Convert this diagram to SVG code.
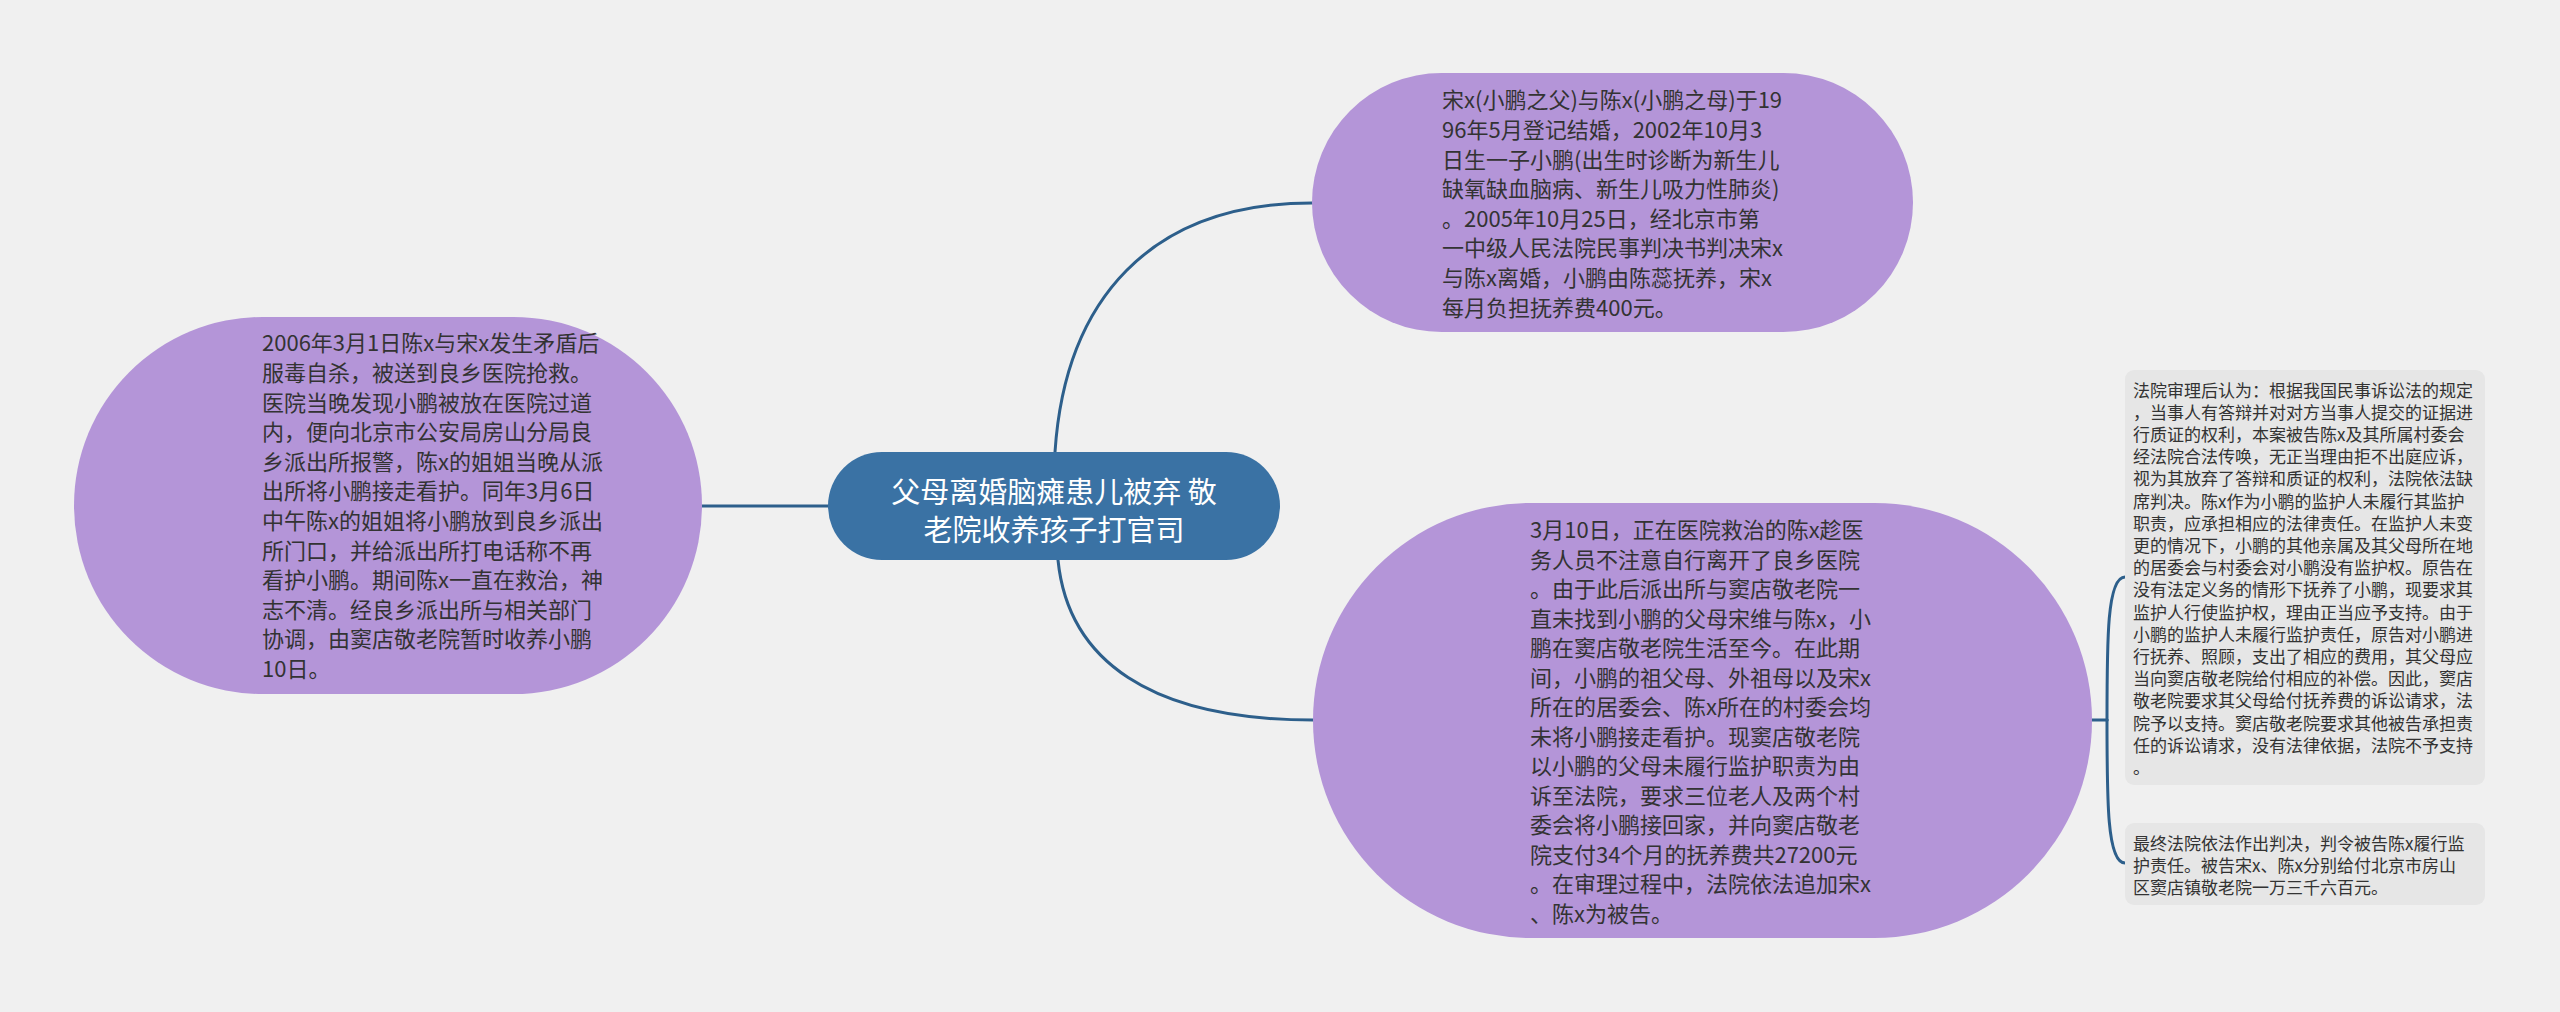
<svg xmlns="http://www.w3.org/2000/svg" width="2560" height="1012" viewBox="0 0 2560 1012">
<style>
.bg{fill:#f0f0f0}
.purple{fill:#b495d8}
.root{fill:#3a72a4}
.box{fill:#e6e6e6}
.conn{fill:none;stroke:#2d5f8b;stroke-width:3;stroke-linecap:round}
.t{font-family:"Microsoft YaHei","Noto Sans CJK SC","Noto Sans",sans-serif;fill:#333333}
.tp{font-size:22px}
.ts{font-size:17px}
.tr{font-size:29px;fill:#ffffff;text-anchor:middle}
</style>
<rect class="bg" x="0" y="0" width="2560" height="1012"/>
<g id="connectors">
<path class="conn" d="M702,506 L828,506"/>
<path class="conn" d="M1055,452 C1065,300 1150,203 1312,203"/>
<path class="conn" d="M1058,560 C1068,660 1150,720 1313,720"/>
<path class="conn" d="M2092,720 L2107,720"/>
<path class="conn" d="M2107,720 C2107,640 2107,577 2125,577"/>
<path class="conn" d="M2107,720 C2107,800 2107,863 2125,863"/>
</g>
<g id="root">
<rect class="root" x="828" y="452" width="452" height="108" rx="54" ry="54"/>
<text class="t tr" x="1054" y="503">父母离婚脑瘫患儿被弃 敬</text>
<text class="t tr" x="1054" y="541">老院收养孩子打官司</text>
</g>
<g id="node-top">
<rect class="purple" x="1312" y="73" width="601" height="259" rx="129.5" ry="129.5"/>
<text class="t tp">
<tspan x="1442" y="108.4">宋x(小鹏之父)与陈x(小鹏之母)于19</tspan>
<tspan x="1442" y="138">96年5月登记结婚，2002年10月3</tspan>
<tspan x="1442" y="167.6">日生一子小鹏(出生时诊断为新生儿</tspan>
<tspan x="1442" y="197.2">缺氧缺血脑病、新生儿吸力性肺炎)</tspan>
<tspan x="1442" y="226.8">。2005年10月25日，经北京市第</tspan>
<tspan x="1442" y="256.4">一中级人民法院民事判决书判决宋x</tspan>
<tspan x="1442" y="286">与陈x离婚，小鹏由陈蕊抚养，宋x</tspan>
<tspan x="1442" y="315.6">每月负担抚养费400元。</tspan>
</text>
</g>
<g id="node-left">
<rect class="purple" x="74" y="317" width="628" height="377" rx="188.5" ry="188.5"/>
<text class="t tp">
<tspan x="262" y="351.4">2006年3月1日陈x与宋x发生矛盾后</tspan>
<tspan x="262" y="381">服毒自杀，被送到良乡医院抢救。</tspan>
<tspan x="262" y="410.6">医院当晚发现小鹏被放在医院过道</tspan>
<tspan x="262" y="440.2">内，便向北京市公安局房山分局良</tspan>
<tspan x="262" y="469.8">乡派出所报警，陈x的姐姐当晚从派</tspan>
<tspan x="262" y="499.4">出所将小鹏接走看护。同年3月6日</tspan>
<tspan x="262" y="529">中午陈x的姐姐将小鹏放到良乡派出</tspan>
<tspan x="262" y="558.6">所门口，并给派出所打电话称不再</tspan>
<tspan x="262" y="588.2">看护小鹏。期间陈x一直在救治，神</tspan>
<tspan x="262" y="617.8">志不清。经良乡派出所与相关部门</tspan>
<tspan x="262" y="647.4">协调，由窦店敬老院暂时收养小鹏</tspan>
<tspan x="262" y="677">10日。</tspan>
</text>
</g>
<g id="node-bottom">
<rect class="purple" x="1313" y="503" width="779" height="435" rx="217.5" ry="217.5"/>
<text class="t tp">
<tspan x="1530" y="538.4">3月10日，正在医院救治的陈x趁医</tspan>
<tspan x="1530" y="567.9">务人员不注意自行离开了良乡医院</tspan>
<tspan x="1530" y="597.4">。由于此后派出所与窦店敬老院一</tspan>
<tspan x="1530" y="626.9">直未找到小鹏的父母宋维与陈x，小</tspan>
<tspan x="1530" y="656.4">鹏在窦店敬老院生活至今。在此期</tspan>
<tspan x="1530" y="685.9">间，小鹏的祖父母、外祖母以及宋x</tspan>
<tspan x="1530" y="715.4">所在的居委会、陈x所在的村委会均</tspan>
<tspan x="1530" y="744.9">未将小鹏接走看护。现窦店敬老院</tspan>
<tspan x="1530" y="774.4">以小鹏的父母未履行监护职责为由</tspan>
<tspan x="1530" y="803.9">诉至法院，要求三位老人及两个村</tspan>
<tspan x="1530" y="833.4">委会将小鹏接回家，并向窦店敬老</tspan>
<tspan x="1530" y="862.9">院支付34个月的抚养费共27200元</tspan>
<tspan x="1530" y="892.4">。在审理过程中，法院依法追加宋x</tspan>
<tspan x="1530" y="921.9">、陈x为被告。</tspan>
</text>
</g>
<g id="node-judgement">
<rect class="box" x="2125" y="370" width="360" height="415" rx="9" ry="9"/>
<text class="t ts">
<tspan x="2133" y="396.5">法院审理后认为：根据我国民事诉讼法的规定</tspan>
<tspan x="2133" y="418.7">，当事人有答辩并对对方当事人提交的证据进</tspan>
<tspan x="2133" y="440.9">行质证的权利，本案被告陈x及其所属村委会</tspan>
<tspan x="2133" y="463.1">经法院合法传唤，无正当理由拒不出庭应诉，</tspan>
<tspan x="2133" y="485.3">视为其放弃了答辩和质证的权利，法院依法缺</tspan>
<tspan x="2133" y="507.5">席判决。陈x作为小鹏的监护人未履行其监护</tspan>
<tspan x="2133" y="529.7">职责，应承担相应的法律责任。在监护人未变</tspan>
<tspan x="2133" y="551.9">更的情况下，小鹏的其他亲属及其父母所在地</tspan>
<tspan x="2133" y="574.1">的居委会与村委会对小鹏没有监护权。原告在</tspan>
<tspan x="2133" y="596.3">没有法定义务的情形下抚养了小鹏，现要求其</tspan>
<tspan x="2133" y="618.5">监护人行使监护权，理由正当应予支持。由于</tspan>
<tspan x="2133" y="640.7">小鹏的监护人未履行监护责任，原告对小鹏进</tspan>
<tspan x="2133" y="662.9">行抚养、照顾，支出了相应的费用，其父母应</tspan>
<tspan x="2133" y="685.1">当向窦店敬老院给付相应的补偿。因此，窦店</tspan>
<tspan x="2133" y="707.3">敬老院要求其父母给付抚养费的诉讼请求，法</tspan>
<tspan x="2133" y="729.5">院予以支持。窦店敬老院要求其他被告承担责</tspan>
<tspan x="2133" y="751.7">任的诉讼请求，没有法律依据，法院不予支持</tspan>
<tspan x="2133" y="773.9">。</tspan>
</text>
</g>
<g id="node-verdict">
<rect class="box" x="2125" y="823" width="360" height="82" rx="9" ry="9"/>
<text class="t ts">
<tspan x="2133" y="849.5">最终法院依法作出判决，判令被告陈x履行监</tspan>
<tspan x="2133" y="871.5">护责任。被告宋x、陈x分别给付北京市房山</tspan>
<tspan x="2133" y="893.5">区窦店镇敬老院一万三千六百元。</tspan>
</text>
</g>
</svg>
